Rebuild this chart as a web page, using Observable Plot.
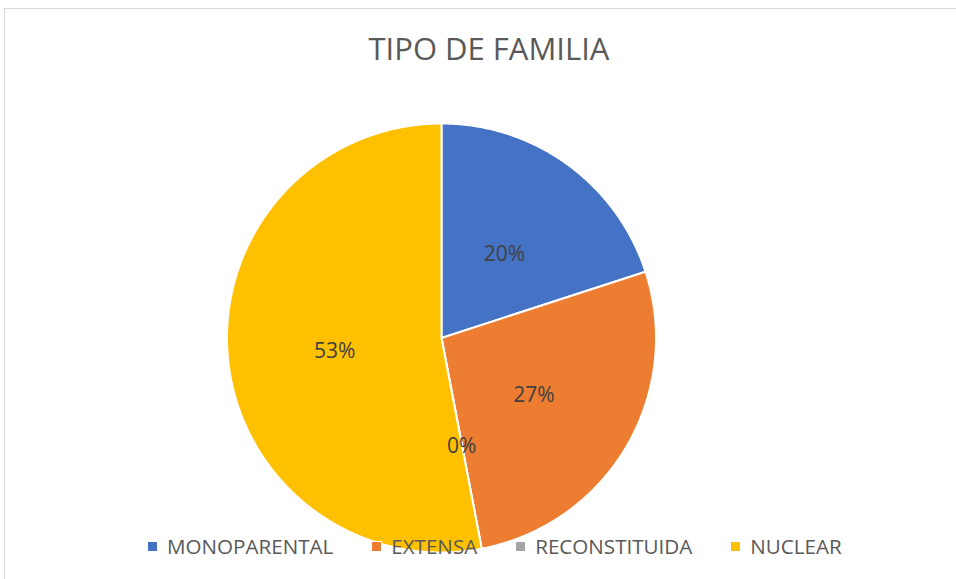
<!DOCTYPE html>
<html>
<head>
<meta charset="utf-8">
<script src="https://cdn.jsdelivr.net/npm/d3@7"></script>
<script src="https://cdn.jsdelivr.net/npm/@observablehq/plot@0.6"></script>
<style>
  html, body { margin: 0; padding: 0; background: #fff; }
  #chart { position: relative; width: 956px; height: 579px; overflow: hidden; font-family: "Open Sans", sans-serif; }
  #frame { position: absolute; left: 4px; top: 8px; width: 1100px; height: 800px; border: 1px solid #d9d9d9; box-sizing: border-box; }
  #plot { position: absolute; left: 0; top: 0; }
  #title { position: absolute; left: 0; top: 27px; width: 978px; text-align: center; font-size: 31px; color: #595959; font-weight: 400; letter-spacing: 0px; }
  #legend { position: absolute; left: 147px; top: 532px; display: flex; align-items: center; font-size: 20.6px; color: #595959; white-space: nowrap; }
  .item { display: flex; align-items: center; }
  .swatch { width: 9px; height: 9px; border: 1px solid #fff; margin-right: 9px; box-sizing: content-box; }
</style>
</head>
<body>
<div id="chart">
  <div id="frame"></div>
  <div id="plot"></div>
  <div id="title"></div>
  <div id="legend"></div>
</div>
<script>
const chartTitle = "TIPO DE FAMILIA";
const categories = ["MONOPARENTAL", "EXTENSA", "RECONSTITUIDA", "NUCLEAR"];
const values = [20, 27, 0, 53];
const labels = ["20%", "27%", "0%", "53%"];
const colors = ["#4472C4", "#ED7D31", "#A5A5A5", "#FFC000"];

const data = categories.map((name, i) => ({name, value: values[i], label: labels[i]}));
const arcs = d3.pie().sort(null).value(d => d.value)(data);

const points = [];
arcs.forEach(a => {
  points.push({name: a.data.name, x: 0, y: 0});
  const n = Math.max(2, Math.ceil((a.endAngle - a.startAngle) / 0.005));
  for (let k = 0; k <= n; k++) {
    const t = a.startAngle + (a.endAngle - a.startAngle) * k / n;
    points.push({name: a.data.name, x: Math.sin(t), y: -Math.cos(t)});
  }
});
const labelPts = arcs.map(a => {
  const m = (a.startAngle + a.endAngle) / 2;
  return {name: a.data.name, label: a.data.label, x: 0.5 * Math.sin(m), y: -0.5 * Math.cos(m)};
});

const plot = Plot.plot({
  width: 956,
  height: 579,
  margin: 0,
  x: {domain: [-1, 1], range: [226.5, 655.5], axis: null},
  y: {domain: [-1, 1], range: [123, 552], axis: null},
  color: {domain: categories, range: colors},
  style: {background: "transparent", fontFamily: "Open Sans"},
  marks: [
    Plot.line(points, {x: "x", y: "y", z: "name", fill: "name", stroke: "white", strokeWidth: 2, curve: "linear-closed", strokeLinejoin: "round"}),
    Plot.text(labelPts, {x: "x", y: "y", text: "label", fontSize: 21, fill: "#404040", dy: 3})
  ]
});
document.getElementById("plot").appendChild(plot);

document.getElementById("title").textContent = chartTitle;
const legend = document.getElementById("legend");
categories.forEach((c, i) => {
  const item = document.createElement("div");
  item.className = "item";
  if (i < categories.length - 1) item.style.marginRight = "38px";
  const sw = document.createElement("span");
  sw.className = "swatch";
  sw.style.background = colors[i];
  const tx = document.createElement("span");
  tx.textContent = c;
  item.appendChild(sw);
  item.appendChild(tx);
  legend.appendChild(item);
});
</script>
</body>
</html>
